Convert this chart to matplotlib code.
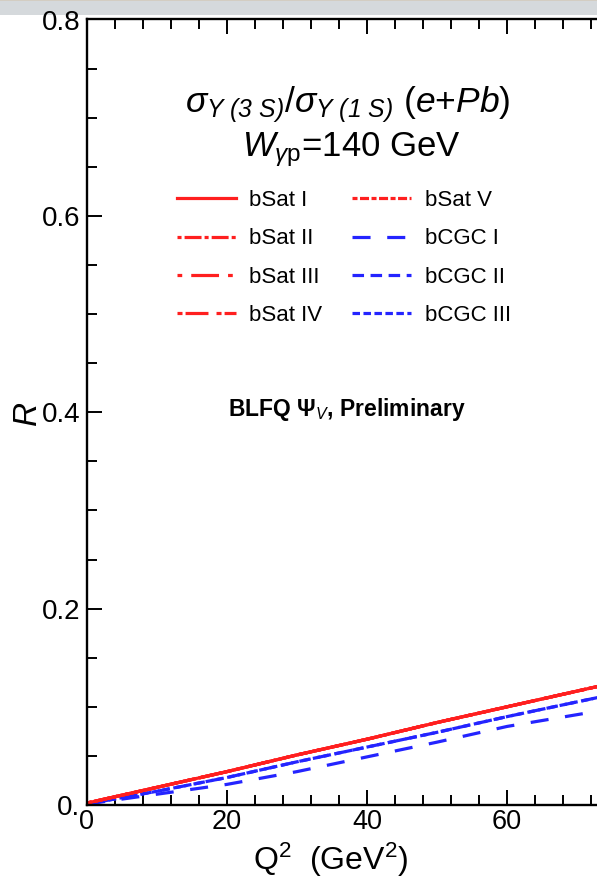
import numpy as np
import matplotlib
matplotlib.use("Agg")
import matplotlib.pyplot as plt
from matplotlib.patches import Rectangle
from matplotlib.ticker import MultipleLocator

plt.rcParams['font.family'] = ['Liberation Sans', 'DejaVu Sans']
plt.rcParams['mathtext.fontset'] = 'custom'
plt.rcParams['mathtext.rm'] = 'Liberation Sans'
plt.rcParams['mathtext.it'] = 'Liberation Sans:italic'
plt.rcParams['mathtext.bf'] = 'Liberation Sans:bold'
# sf slot used for italic greek capitals in the title
plt.rcParams['mathtext.sf'] = 'Liberation Sans:italic'
plt.rcParams['lines.scale_dashes'] = False

# ratio sigma(3S)/sigma(1S) vs Q^2
q2 = [0, 10, 20, 30, 40, 50, 60, 70, 80]
r_bsat1 = [0.002, 0.018, 0.034, 0.051, 0.067, 0.084, 0.100, 0.116, 0.132]
r_bsat2 = [0.002, 0.018, 0.034, 0.051, 0.067, 0.084, 0.100, 0.116, 0.132]
r_bsat3 = [0.002, 0.018, 0.034, 0.051, 0.067, 0.084, 0.100, 0.116, 0.132]
r_bsat4 = [0.002, 0.018, 0.034, 0.051, 0.067, 0.084, 0.100, 0.116, 0.132]
r_bsat5 = [0.002, 0.018, 0.034, 0.051, 0.067, 0.084, 0.100, 0.116, 0.132]
r_bcgc1 = [0.001, 0.011, 0.021, 0.034, 0.049, 0.064, 0.080, 0.092, 0.104]
r_bcgc2 = [0.001, 0.014, 0.028, 0.044, 0.059, 0.074, 0.090, 0.105, 0.120]
r_bcgc3 = [0.001, 0.014, 0.028, 0.044, 0.059, 0.074, 0.090, 0.105, 0.120]

yticks = [0.0, 0.2, 0.4, 0.6, 0.8]
ytick_labels = ["0.", "0.2", "0.4", "0.6", "0.8"]
xticks = [0, 20, 40, 60]
xtick_labels = ["0", "20", "40", "60"]

red = '#ff1f1f'
blue = '#2424ff'
lw = 2.3

fig = plt.figure(figsize=(5.97, 8.80), dpi=100)
fig.patch.set_facecolor('white')
# grey strip along the top
fig.patches.append(Rectangle((0, 1 - 15.5 / 880), 1, 15.5 / 880, transform=fig.transFigure,
                             facecolor='#d5d9dc', edgecolor='none', zorder=-5))
fig.patches.append(Rectangle((0, 1 - 1.5 / 880), 1, 1.5 / 880, transform=fig.transFigure,
                             facecolor='#d3cdc2', edgecolor='none', zorder=-4))

ax = fig.add_axes([87 / 597, 75 / 880, 560 / 597, 785.5 / 880])
ax.set_xlim(0, 80)
ax.set_ylim(0, 0.8)

ax.plot(q2, r_bcgc1, color=blue, lw=lw, dashes=(13, 12), label='bCGC I')
ax.plot(q2, r_bcgc2, color=blue, lw=lw, dashes=(8.3, 4.7), label='bCGC II')
ax.plot(q2, r_bcgc3, color=blue, lw=lw, dashes=(5.4, 2.5), label='bCGC III')
ax.plot(q2, r_bsat5, color=red, lw=lw, dashes=(3.6, 1.8, 6.5, 1.8), label='bSat V')
ax.plot(q2, r_bsat4, color=red, lw=lw, dashes=(3.6, 2.2, 16.5, 5.8), label='bSat IV')
ax.plot(q2, r_bsat3, color=red, lw=lw, dashes=(3.4, 6.5, 20, 6.5), label='bSat III')
ax.plot(q2, r_bsat2, color=red, lw=lw, dashes=(2.9, 2.2, 12.2, 2.2), label='bSat II')
ax.plot(q2, r_bsat1, color=red, lw=lw, ls='-', label='bSat I')

ax.set_yticks(yticks, ytick_labels)
ax.set_xticks(xticks, xtick_labels)
ax.yaxis.set_minor_locator(MultipleLocator(0.05))
ax.xaxis.set_minor_locator(MultipleLocator(4))
ax.tick_params(which='both', direction='in', top=True, right=True, labelsize=20, width=1.4, color='black')
ax.tick_params(which='major', length=10.8)
ax.tick_params(which='minor', length=7.2)
ax.tick_params(axis='y', pad=5)
ax.tick_params(axis='x', pad=3, labelsize=19.5)
for s in ax.spines.values():
    s.set_linewidth(1.7)

ax.set_ylabel(r'$R$', fontsize=24)
ax.yaxis.set_label_coords(-0.077, 0.497)

fig.text(253 / 597, 1.5 / 880, r'Q$^2$  (GeV$^2$)', fontsize=23, ha='left', va='bottom')

fig.text(348 / 597, 1 - 112 / 880,
         r'$\sigma_{\mathsf{Υ\ (3\ S)}}/\sigma_{\mathsf{Υ\ (1\ S)}}$ $(e$+$Pb)$',
         fontsize=25.5, ha='center', va='baseline')
fig.text(351 / 597, 1 - 156 / 880, r'$W_{\gamma \mathrm{p}}$=140 GeV',
         fontsize=25, ha='center', va='baseline')
fig.text(347 / 597, 1 - 416 / 880, r'BLFQ $\mathbf{Ψ}_{\mathit{V}}$, Preliminary',
         fontsize=16.5, fontweight='bold', ha='center', va='baseline')

h, l = ax.get_legend_handles_labels()
order = ['bSat I', 'bSat II', 'bSat III', 'bSat IV', 'bSat V', 'bCGC I', 'bCGC II', 'bCGC III']
hd = dict(zip(l, h))
ax.legend([hd[k] for k in order], order, ncol=2, frameon=False, fontsize=16,
          loc='upper left', bbox_to_anchor=(177 / 597, 1 - 190 / 880), bbox_transform=fig.transFigure,
          borderpad=0, borderaxespad=0, handlelength=2.66, handletextpad=0.59,
          columnspacing=1.35, labelspacing=0.78)

fig.savefig('out.png', dpi=100)
